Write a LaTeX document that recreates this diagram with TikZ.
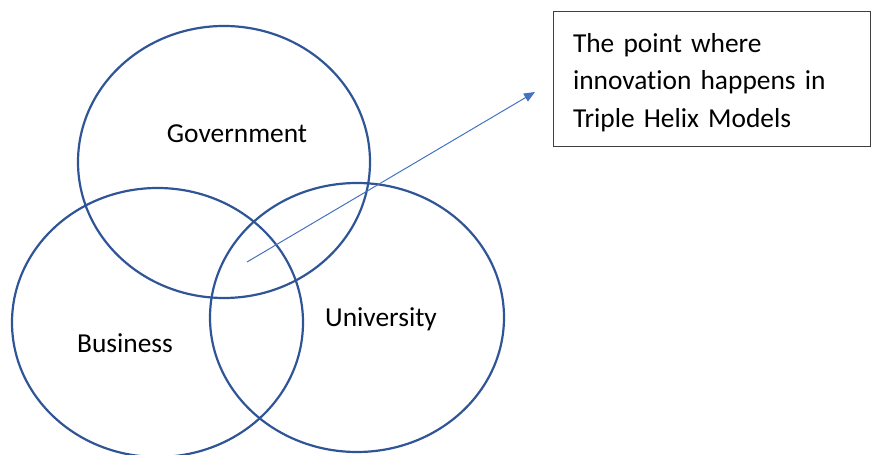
\documentclass[tikz,border=0pt]{standalone}
\usepackage{fontspec}
\setmainfont[Ligatures=NoCommon]{Carlito}
\usetikzlibrary{shapes, arrows.meta, positioning, calc}
\definecolor{helixblue}{RGB}{47,85,151}
\definecolor{arrowblue}{RGB}{68,114,196}
\definecolor{boxgrey}{RGB}{64,64,64}

\begin{document}
\begin{tikzpicture}[x=1pt, y=1pt,
    helix/.style={ellipse, draw=helixblue, line width=2.2pt, inner sep=0pt},
    lbl/.style={font=\fontsize{27.4}{37.5}\selectfont, inner sep=0pt}]
                \useasboundingbox (0,0) rectangle (871,455);
                \node[helix, minimum width=292, minimum height=272] (gov) at (224,293) {};
                \node[helix, minimum width=291, minimum height=269] (bus) at (157.5,132.5) {};
                \node[helix, minimum width=294, minimum height=269] (uni) at (357,137.5) {};
                \node[lbl] (govlbl) at (237,321) {Government};
                \node[lbl] (buslbl) at (125,112) {Business};
                \node[lbl] (unilbl) at (381,136) {University};
                \node[lbl, draw=boxgrey, line width=1pt, text width=277, align=left, inner xsep=20, minimum height=135] (note) at (711.5,375.5) {\rule{0pt}{25pt}The point where\\ innovation happens in\\ Triple Helix Models};
                \coordinate (core) at (247,193);
                \coordinate (tip) at (535,363);
                \draw[-{Triangle[length=11pt, width=9pt]}, arrowblue, line width=1pt] (core) -- (tip);
            \end{tikzpicture}
\end{document}
